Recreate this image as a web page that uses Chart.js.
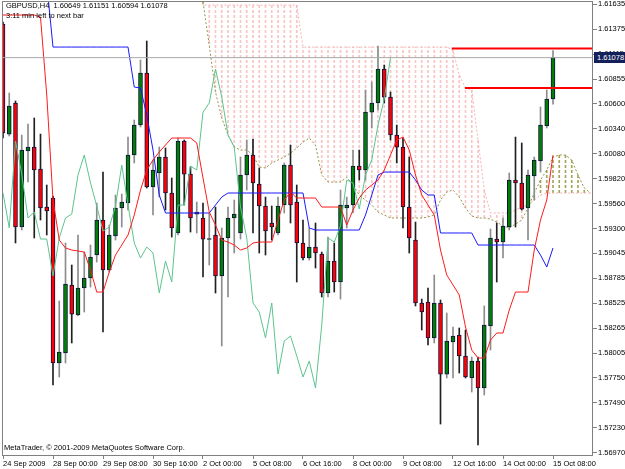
<!DOCTYPE html>
<html>
<head>
<meta charset="utf-8">
<script src="https://cdn.jsdelivr.net/npm/chart.js@4.4.0/dist/chart.umd.min.js"></script>
<style>
  html, body { margin: 0; padding: 0; background: #fff; }
  #wrap { position: relative; width: 625px; height: 469px; overflow: hidden; }
  .txt { position: absolute; font-family: "Liberation Sans", Arial, sans-serif; font-size: 7.5px; line-height: 1; color: #000; white-space: pre; }
  #price { position: absolute; left: 594px; width: 31px; height: 11px; background: #14205a; color: #fff;
           font: 7.5px "Liberation Sans", Arial, sans-serif; line-height: 11px; padding-left: 3px; box-sizing: border-box; }
</style>
</head>
<body>
<div id="wrap">
  <canvas id="chart" width="625" height="469"></canvas>
  <div class="txt" id="head" style="left:6px;top:2px"></div>
  <div class="txt" style="left:6px;top:12px">3:11 min left to next bar</div>
  <div class="txt" style="left:4px;top:444px">MetaTrader, © 2001-2009 MetaQuotes Software Corp.</div>
  <div id="price"></div>
</div>
<script>
// GBPUSD H4, 24 Sep 2009 16:00 .. 15 Oct 2009 08:00 (one entry per 4h bar)
const timeLabels = ['24 Sep 2009', '28 Sep 00:00', '29 Sep 08:00', '30 Sep 16:00', '2 Oct 00:00', '5 Oct 08:00',
                    '6 Oct 16:00', '8 Oct 00:00', '9 Oct 08:00', '12 Oct 16:00', '14 Oct 00:00', '15 Oct 08:00'];
const labelEvery = 8;

const priceTicks = [1.61635, 1.61375, 1.61115, 1.60855, 1.60600, 1.60340, 1.60080, 1.59820, 1.59560, 1.59300,
                    1.59045, 1.58785, 1.58525, 1.58265, 1.58005, 1.57750, 1.57490, 1.57230, 1.56970];

const opens = [
  1.61427, 1.60283, 1.60606, 1.59316, 1.60107, 1.60148, 1.59919, 1.59524, 1.59618, 1.57902,
  1.58006, 1.58713, 1.58401, 1.58682, 1.58786, 1.59025, 1.59389, 1.58869, 1.59223, 1.59514,
  1.59566, 1.60065, 1.60377, 1.60918, 1.59732, 1.59878, 1.60044, 1.59670, 1.59254, 1.60211,
  1.59867, 1.59451, 1.59410, 1.59186, 1.59233, 1.58807, 1.59202, 1.59410, 1.59254, 1.59857,
  1.60065, 1.59763, 1.59535, 1.59358, 1.59254, 1.59545, 1.59961, 1.59576, 1.59150, 1.58994,
  1.59108, 1.59035, 1.58630, 1.58963, 1.58744, 1.59514, 1.59545, 1.59951, 1.59909, 1.60512,
  1.60606, 1.60959, 1.60668, 1.60273, 1.60148, 1.59524, 1.59181, 1.58526, 1.58536, 1.58162,
  1.58526, 1.57787, 1.58120, 1.58193, 1.57975, 1.57746, 1.57923, 1.57642, 1.58287, 1.59191,
  1.59160, 1.59316, 1.59805, 1.59774, 1.59514, 1.59847, 1.60003, 1.60367, 1.60649
];
const highs = [
  1.61448, 1.60710, 1.60627, 1.60273, 1.60387, 1.60450, 1.60283, 1.59753, 1.59639, 1.58547,
  1.59150, 1.58921, 1.59233, 1.59056, 1.59129, 1.59566, 1.59888, 1.59337, 1.59649, 1.59659,
  1.60252, 1.60429, 1.61053, 1.61251, 1.60013, 1.60148, 1.60138, 1.59826, 1.60242, 1.60221,
  1.59940, 1.59576, 1.59566, 1.59462, 1.59524, 1.59306, 1.59524, 1.59597, 1.60044, 1.60221,
  1.60231, 1.59930, 1.59628, 1.59535, 1.59628, 1.59982, 1.60169, 1.59753, 1.59389, 1.59306,
  1.59358, 1.59056, 1.59212, 1.59150, 1.59701, 1.59628, 1.60117, 1.60117, 1.60741, 1.60824,
  1.61199, 1.61001, 1.60720, 1.60377, 1.60242, 1.60044, 1.59368, 1.58567, 1.58682, 1.58817,
  1.58557, 1.58422, 1.58276, 1.58266, 1.58245, 1.57964, 1.57964, 1.58495, 1.59295, 1.59358,
  1.59410, 1.59878, 1.60252, 1.60190, 1.59909, 1.60044, 1.60564, 1.60741, 1.61151
];
const lows = [
  1.60242, 1.60263, 1.59150, 1.59285, 1.59784, 1.59202, 1.59389, 1.59233, 1.57673, 1.57756,
  1.57902, 1.58110, 1.58391, 1.58432, 1.58692, 1.58952, 1.58224, 1.58848, 1.59181, 1.59316,
  1.59493, 1.59982, 1.60356, 1.59722, 1.59441, 1.59628, 1.59493, 1.59212, 1.59233, 1.59545,
  1.59264, 1.59254, 1.58796, 1.58921, 1.58630, 1.58079, 1.58588, 1.59046, 1.59191, 1.59701,
  1.59254, 1.59046, 1.59025, 1.59181, 1.59233, 1.59462, 1.59358, 1.58744, 1.58973, 1.58973,
  1.58890, 1.58588, 1.58588, 1.58640, 1.58567, 1.59306, 1.59462, 1.59805, 1.59805, 1.60346,
  1.60533, 1.60606, 1.60221, 1.59982, 1.59306, 1.59046, 1.58495, 1.58245, 1.58089, 1.58110,
  1.57267, 1.57746, 1.57746, 1.57798, 1.57746, 1.57600, 1.57049, 1.57569, 1.58037, 1.58744,
  1.58994, 1.59285, 1.59316, 1.59493, 1.59181, 1.59597, 1.59888, 1.60346, 1.60594
];
const closes = [
  1.60294, 1.60575, 1.59316, 1.60117, 1.60148, 1.59909, 1.59514, 1.59483, 1.57902, 1.58016,
  1.58723, 1.58411, 1.58682, 1.58786, 1.59004, 1.59389, 1.58869, 1.59233, 1.59514, 1.59576,
  1.60065, 1.60377, 1.60918, 1.59732, 1.59909, 1.60044, 1.59670, 1.59306, 1.60211, 1.59867,
  1.59410, 1.59472, 1.59191, 1.59191, 1.58807, 1.59202, 1.59410, 1.59451, 1.59857, 1.60065,
  1.59774, 1.59535, 1.59275, 1.59316, 1.59535, 1.59961, 1.59545, 1.59150, 1.58994, 1.59108,
  1.59046, 1.58630, 1.58963, 1.58744, 1.59545, 1.59545, 1.59951, 1.59909, 1.60512, 1.60606,
  1.60959, 1.60668, 1.60273, 1.60148, 1.59524, 1.59202, 1.58526, 1.58432, 1.58162, 1.58526,
  1.57787, 1.58131, 1.58183, 1.57975, 1.57756, 1.57923, 1.57642, 1.58297, 1.59202, 1.59160,
  1.59327, 1.59805, 1.59774, 1.59503, 1.59857, 1.60013, 1.60377, 1.60647, 1.61078
];

// Ichimoku lines (Kijun starts above the window)
const tenkan = [
  1.61521, 1.61521, 1.61521, 1.61521, 1.61521, 1.61521, 1.61500, 1.60689, 1.59597, 1.59181,
  1.59098, 1.59077, 1.59067, 1.59056, 1.58869, 1.58640, 1.58640, 1.58848, 1.59025, 1.59129,
  1.59233, 1.59441, 1.59701, 1.59909, 1.60013, 1.60096, 1.60169, 1.60242, 1.60242, 1.60242,
  1.60242, 1.60190, 1.59826, 1.59472, 1.59337, 1.59181, 1.59160, 1.59129, 1.59077, 1.59098,
  1.59150, 1.59160, 1.59160, 1.59160, 1.59389, 1.59597, 1.59680, 1.59618, 1.59618, 1.59618,
  1.59618, 1.59524, 1.59524, 1.59524, 1.59524, 1.59337, 1.59493, 1.59618, 1.59701, 1.59753,
  1.59805, 1.59909, 1.60065, 1.60221, 1.60252, 1.60117, 1.59857, 1.59649, 1.59545, 1.59441,
  1.59077, 1.58817, 1.58713, 1.58609, 1.58276, 1.58037, 1.57954, 1.57954, 1.58141, 1.58214,
  1.58214, 1.58453, 1.58640, 1.58640, 1.58640, 1.59077, 1.59389, 1.59597, 1.60065
];
const kijun = [
  1.61850, 1.61850, 1.61850, 1.61850, 1.61850, 1.61850, 1.61850, 1.61850, 1.61188, 1.61188,
  1.61188, 1.61188, 1.61188, 1.61188, 1.61188, 1.61188, 1.61188, 1.61188, 1.61188, 1.61188,
  1.61188, 1.60772, 1.60762, 1.60481, 1.60117, 1.59649, 1.59462, 1.59462, 1.59462, 1.59462,
  1.59462, 1.59462, 1.59462, 1.59462, 1.59545, 1.59628, 1.59670, 1.59670, 1.59670, 1.59670,
  1.59670, 1.59670, 1.59670, 1.59670, 1.59670, 1.59670, 1.59670, 1.59670, 1.59670, 1.59306,
  1.59285, 1.59285, 1.59285, 1.59285, 1.59285, 1.59285, 1.59285, 1.59285, 1.59441, 1.59649,
  1.59857, 1.59888, 1.59888, 1.59888, 1.59888, 1.59888, 1.59805, 1.59701, 1.59649, 1.59649,
  1.59254, 1.59254, 1.59254, 1.59254, 1.59254, 1.59254, 1.59129, 1.59129, 1.59129, 1.59129,
  1.59129, 1.59129, 1.59129, 1.59129, 1.59129, 1.59129, 1.59025, 1.58900, 1.59098
];
const chikouShift = 26;

// cloud: bars 31 .. 94 (runs 6 bars past the last candle)
const cloudStart = 31;
const senkouA = [
  1.61850, 1.61656, 1.61209, 1.60720, 1.60450, 1.60273, 1.60148, 1.60117, 1.60117, 1.60065,
  1.59940, 1.59930, 1.59982, 1.60013, 1.60044, 1.60086, 1.60138, 1.60200, 1.60242, 1.60169,
  1.59857, 1.59784, 1.59784, 1.59784, 1.59836, 1.59753, 1.59649, 1.59597, 1.59545, 1.59472,
  1.59441, 1.59410, 1.59410, 1.59410, 1.59410, 1.59410, 1.59410, 1.59420, 1.59441, 1.59597,
  1.59680, 1.59701, 1.59628, 1.59514, 1.59431, 1.59410, 1.59410, 1.59399, 1.59368, 1.59327,
  1.59306, 1.59347, 1.59389, 1.59514, 1.59670, 1.59805, 1.59909, 1.60044, 1.60065, 1.60065,
  1.60013, 1.59857, 1.59722, 1.59670
];
const senkouB = [
  1.61850, 1.61625, 1.61625, 1.61625, 1.61625, 1.61625, 1.61625, 1.61625, 1.61625, 1.61625,
  1.61625, 1.61625, 1.61625, 1.61625, 1.61625, 1.61625, 1.61625, 1.61188, 1.61188, 1.61188,
  1.61188, 1.61188, 1.61188, 1.61188, 1.61188, 1.61188, 1.61188, 1.61188, 1.61188, 1.61188,
  1.61188, 1.61188, 1.61188, 1.61188, 1.61188, 1.61188, 1.61188, 1.61188, 1.61188, 1.61188,
  1.61188, 1.61157, 1.60897, 1.60762, 1.60741, 1.60221, 1.59701, 1.59462, 1.59462, 1.59462,
  1.59462, 1.59493, 1.59524, 1.59545, 1.59597, 1.59649, 1.59670, 1.59670, 1.59670, 1.59670,
  1.59670, 1.59670, 1.59670, 1.59670
];

// two horizontal lines drawn by hand on the chart
const levelPrices = [1.61173, 1.60762];
const levelFromBar = [71.8, 73.9];

const xMin = -0.16, xMax = 94.4;
const yMin = 1.56945, yMax = 1.61667;

const font = { family: 'Liberation Sans', size: 7.5 };
const last = closes.length - 1;
const bars = closes.map((v, i) => i);
const isUp = bars.map(i => closes[i] >= opens[i]);

// MT4 draws the kumo as dotted vertical strokes, one per bar
function dotted(color) {
  const c = document.createElement('canvas');
  c.width = 1; c.height = 5;
  const g = c.getContext('2d');
  g.fillStyle = color;
  g.fillRect(0, 0, 1, 3);
  return g.createPattern(c, 'repeat');
}

function line(label, points, color, extra) {
  return Object.assign({
    type: 'line', label: label, data: points, borderColor: color, borderWidth: 1,
    pointRadius: 0, tension: 0, clip: 0, order: 2
  }, extra || {});
}

const cloudDown = [], cloudUp = [];
senkouA.forEach((a, k) => {
  const b = senkouB[k];
  if (a > b) cloudUp.push({ x: cloudStart + k, y: [b, a] });
  else if (b > a) cloudDown.push({ x: cloudStart + k, y: [a, b] });
});

const framePlugin = {
  id: 'frame',
  afterDatasetsDraw(chart) {
    const { ctx, chartArea: a } = chart;
    ctx.save();
    ctx.strokeStyle = '#808080';
    ctx.lineWidth = 1;
    ctx.strokeRect(a.left + 0.5, a.top + 0.5, a.right - a.left - 1, a.bottom - a.top);
    ctx.restore();
  }
};

const chart = new Chart(document.getElementById('chart'), {
  type: 'bar',
  data: {
    datasets: [
      line('Level', [{ x: levelFromBar[0], y: levelPrices[0] }, { x: xMax, y: levelPrices[0] }], '#ff0000', { borderWidth: 2, order: 0 }),
      line('Level', [{ x: levelFromBar[1], y: levelPrices[1] }, { x: xMax, y: levelPrices[1] }], '#ff0000', { borderWidth: 2, order: 0 }),
      line('Bid', [{ x: xMin, y: closes[last] }, { x: xMax, y: closes[last] }], '#a8a8a8', { order: 1 }),
      line('Tenkan-sen', tenkan.map((v, i) => ({ x: i, y: v })), '#ff1a1a'),
      line('Kijun-sen', kijun.map((v, i) => ({ x: i, y: v })), '#1a1aff'),
      line('Chikou Span', closes.slice(chikouShift).map((v, i) => ({ x: i, y: v })), '#5cc48f'),
      {
        type: 'bar', label: 'Body', data: bars.map(i => ({ x: i, y: [opens[i], closes[i]] })),
        backgroundColor: bars.map(i => isUp[i] ? '#008000' : '#ff0000'),
        borderColor: '#101040', borderWidth: 1, borderSkipped: false,
        barThickness: 4, minBarLength: 1, grouped: false, clip: 0, order: 4
      },
      {
        type: 'bar', label: 'Shadow', data: bars.map(i => ({ x: i, y: [lows[i], highs[i]] })),
        backgroundColor: bars.map(i => isUp[i] ? '#8c8c8c' : '#202020'),
        borderWidth: 0, barThickness: 1, grouped: false, clip: 0, order: 5
      },
      line('Senkou Span A', senkouA.map((v, k) => ({ x: cloudStart + k, y: v })), '#949448', { borderDash: [2, 2], order: 7 }),
      line('Senkou Span B', senkouB.map((v, k) => ({ x: cloudStart + k, y: v })), '#f5b0b0', { borderDash: [2, 2], order: 7 }),
      {
        type: 'bar', label: 'Kumo up', data: cloudUp, backgroundColor: dotted('#a4a45a'),
        borderWidth: 0, barThickness: 1, grouped: false, clip: 0, order: 8
      },
      {
        type: 'bar', label: 'Kumo down', data: cloudDown, backgroundColor: dotted('#fac4c4'),
        borderWidth: 0, barThickness: 1, grouped: false, clip: 0, order: 8
      }
    ]
  },
  options: {
    responsive: false,
    animation: false,
    events: [],
    layout: { padding: { left: 2, top: 1, right: 0, bottom: 0 } },
    plugins: { legend: { display: false }, tooltip: { enabled: false } },
    scales: {
      x: {
        type: 'linear', position: 'bottom', min: xMin, max: xMax, offset: false,
        grid: { drawOnChartArea: false, drawTicks: true, tickLength: 4, color: '#808080', offset: false },
        border: { display: false },
        ticks: {
          align: 'start', padding: 0, color: '#000', font: font, maxRotation: 0, autoSkip: false,
          callback: (v, i) => timeLabels[i]
        },
        afterBuildTicks: s => { s.ticks = timeLabels.map((t, k) => ({ value: k * labelEvery })); },
        afterFit: s => { s.height = 14; s.paddingLeft = 0; s.paddingRight = 0; }
      },
      y: {
        type: 'linear', position: 'right', min: yMin, max: yMax,
        grid: { drawOnChartArea: false, drawTicks: true, tickLength: 4, color: '#808080' },
        border: { display: false },
        ticks: { padding: 1, color: '#000', font: font, autoSkip: false, callback: v => v.toFixed(5) },
        afterBuildTicks: s => { s.ticks = priceTicks.map(v => ({ value: v })); },
        afterFit: s => { s.width = 32; s.paddingTop = 0; s.paddingBottom = 0; }
      }
    }
  },
  plugins: [framePlugin]
});

document.getElementById('head').textContent = 'GBPUSD,H4  ' +
  [opens[last], highs[last], lows[last], closes[last]].map(v => v.toFixed(5)).join(' ');
const priceBox = document.getElementById('price');
priceBox.textContent = closes[last].toFixed(5);
priceBox.style.top = (chart.scales.y.getPixelForValue(closes[last]) - 5.5) + 'px';
</script>
</body>
</html>
